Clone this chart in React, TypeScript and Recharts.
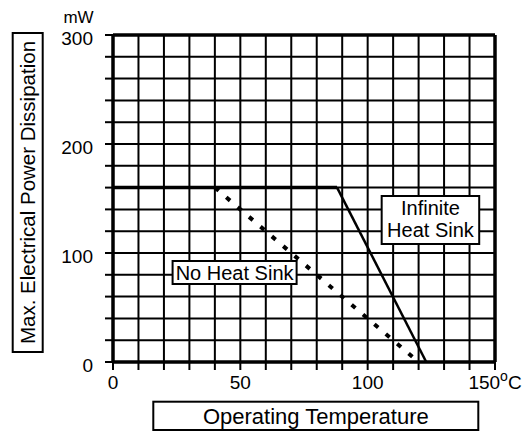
import { LineChart, Line, XAxis, YAxis, CartesianGrid, ReferenceArea, ReferenceLine } from "recharts";

// temperature (°C) / power (mW)
const infiniteTemp = [0, 88, 123];
const infinitePower = [160, 160, 0];
const noSinkTemp = [40, 120];
const noSinkPower = [160, 0];

const xTicks = [0, 10, 20, 30, 40, 50, 60, 70, 80, 90, 100, 110, 120, 130, 140, 150];
const xLabels = [0, 50, 100, 150];
const yTicks = [0, 20, 40, 60, 80, 100, 120, 140, 160, 180, 200, 220, 240, 260, 280, 300];
const yLabels = [0, 100, 200, 300];

const infiniteData = infiniteTemp.map((t, i) => ({ t, p: infinitePower[i] }));
// flat part drawn heavier than the derating slope
const infiniteFlat = infiniteData.slice(0, 2);
const infiniteSlope = infiniteData.slice(1);
const noSinkData = noSinkTemp.map((t, i) => ({ t, p: noSinkPower[i] }));

const FONT = "'Liberation Sans', Arial, Helvetica, sans-serif";

function XTick(props: any) {
  const { x, y, payload } = props;
  const v = payload.value;
  if (!xLabels.includes(v)) return null;
  if (v === 150) {
    return (
      <text x={x} y={y} dy="0.71em" textAnchor="middle" fontSize={19} fill="#000">
        150
        <tspan dy={-8} fontSize={14}>o</tspan>
        <tspan dy={8} fontSize={19}>C</tspan>
      </text>
    );
  }
  return (
    <text x={x} y={y} dy="0.71em" textAnchor="middle" fontSize={19} fill="#000">
      {v}
    </text>
  );
}

function YTick(props: any) {
  const { x, y, payload } = props;
  const v = payload.value;
  if (!yLabels.includes(v)) return null;
  return (
    <text x={x} y={y + 3} dy="0.355em" textAnchor="end" fontSize={19} fill="#000">
      {v}
    </text>
  );
}

function InfiniteLabel(props: any) {
  const { viewBox } = props;
  const cx = viewBox.x + viewBox.width / 2;
  const cy = viewBox.y + viewBox.height / 2;
  return (
    <text x={cx} y={cy} textAnchor="middle" fontSize={20} fill="#000">
      <tspan x={cx} y={cy - 5}>Infinite</tspan>
      <tspan x={cx} y={cy + 17}>Heat Sink</tspan>
    </text>
  );
}

export default function App() {
  return (
    <div style={{ position: "absolute", left: 0, top: 0, width: 530, height: 431, background: "#fff", fontFamily: FONT }}>
      <LineChart width={530} height={431} margin={{ top: 35, right: 35, bottom: 29, left: 53 }}>
        <CartesianGrid stroke="#000" strokeWidth={2} />
        <XAxis
          dataKey="t"
          type="number"
          domain={[0, 150]}
          ticks={xTicks}
          interval={0}
          height={40}
          tick={<XTick />}
          tickSize={8}
          tickMargin={6}
          axisLine={{ stroke: "#000", strokeWidth: 3.5 }}
          tickLine={{ stroke: "#000", strokeWidth: 2 }}
        />
        <YAxis
          type="number"
          domain={[0, 300]}
          ticks={yTicks}
          interval={0}
          width={60}
          tick={<YTick />}
          tickSize={8}
          tickMargin={12}
          axisLine={{ stroke: "#000", strokeWidth: 3.5 }}
          tickLine={{ stroke: "#000", strokeWidth: 2 }}
        />
        <ReferenceLine y={300} stroke="#000" strokeWidth={3.5} />
        <ReferenceLine x={150} stroke="#000" strokeWidth={3.5} />
        <Line
          data={noSinkData}
          dataKey="p"
          type="linear"
          stroke="#000"
          strokeWidth={4}
          strokeDasharray="5 10"
          dot={false}
          isAnimationActive={false}
        />
        <Line
          data={infiniteFlat}
          dataKey="p"
          type="linear"
          stroke="#000"
          strokeWidth={3.5}
          dot={false}
          isAnimationActive={false}
        />
        <Line
          data={infiniteSlope}
          dataKey="p"
          type="linear"
          stroke="#000"
          strokeWidth={2.5}
          dot={false}
          isAnimationActive={false}
        />
        <ReferenceArea
          x1={23.4}
          x2={72.1}
          y1={71.6}
          y2={92.7}
          fill="#fff"
          fillOpacity={1}
          stroke="#000"
          strokeWidth={2}
          label={{ value: "No Heat Sink", position: "center", fontSize: 20, fill: "#000" }}
        />
        <ReferenceArea
          x1={105.5}
          x2={143.8}
          y1={108.3}
          y2={152.3}
          fill="#fff"
          fillOpacity={1}
          stroke="#000"
          strokeWidth={2}
          label={<InfiniteLabel />}
        />
      </LineChart>
      <svg width={530} height={431} style={{ position: "absolute", left: 0, top: 0, pointerEvents: "none" }}>
        <text x={78.5} y={23} textAnchor="middle" fontSize={17} fill="#000">mW</text>
        <rect x={12.7} y={33} width={30} height={319} fill="#fff" stroke="#000" strokeWidth={2} />
        <text
          x={27.7}
          y={192.5}
          transform="rotate(-90 27.7 192.5)"
          textAnchor="middle"
          dominantBaseline="central"
          fontSize={20.5}
          fill="#000"
        >
          Max. Electrical Power Dissipation
        </text>
        <rect x={153.3} y={401.7} width={325} height={28.3} fill="#fff" stroke="#000" strokeWidth={2} />
        <text x={315.8} y={416} textAnchor="middle" dominantBaseline="central" fontSize={22} fill="#000">
          Operating Temperature
        </text>
      </svg>
    </div>
  );
}
